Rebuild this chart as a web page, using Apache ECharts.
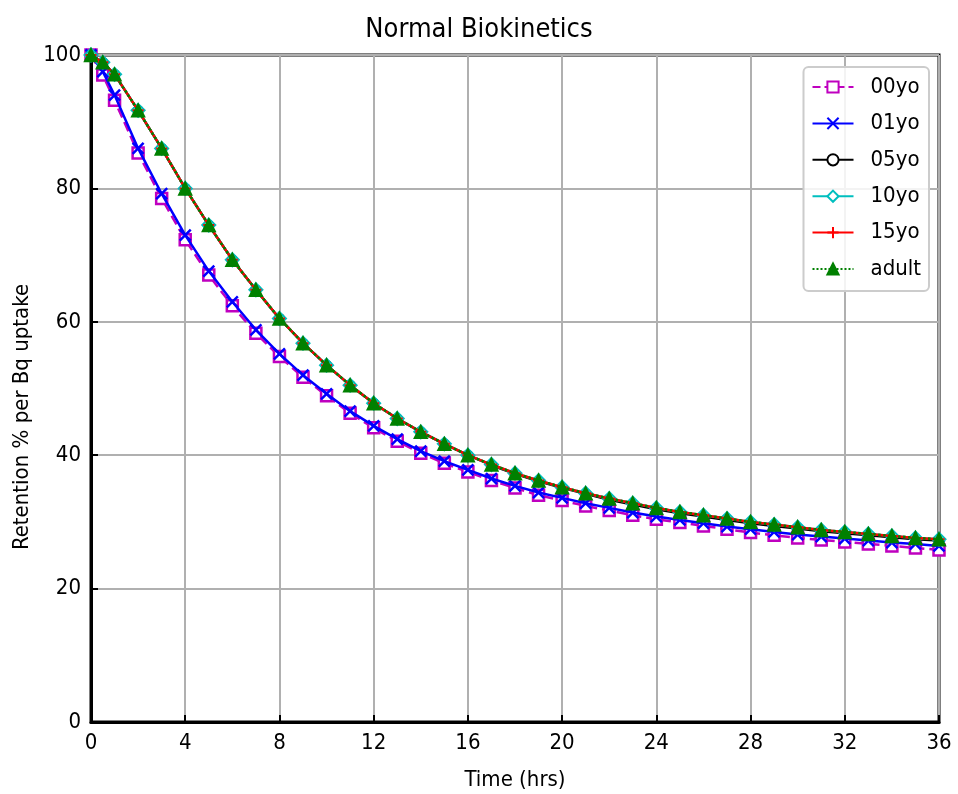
<!DOCTYPE html>
<html><head><meta charset="utf-8">
<script src="https://cdn.jsdelivr.net/npm/echarts@6/dist/echarts.min.js"></script>
<style>html,body{margin:0;padding:0;background:#fff}#c{width:958px;height:794px}</style>
</head><body><div id="c"></div>
<script>
const times = [0,0.5,1,2,3,4,5,6,7,8,9,10,11,12,13,14,15,16,17,18,19,20,21,22,23,24,25,26,27,28,29,30,31,32,33,34,35,36];
const yo00 = [100,97.0,93.2,85.3,78.5,72.3,67.0,62.4,58.3,54.8,51.7,48.9,46.3,44.1,42.1,40.3,38.8,37.5,36.2,35.1,34.0,33.2,32.4,31.7,31.0,30.4,29.9,29.4,28.9,28.4,28.0,27.6,27.3,27.0,26.7,26.4,26.1,25.8];
const yo01 = [100,97.5,94.0,86.0,79.2,73.0,67.6,63.0,58.8,55.2,52.0,49.2,46.6,44.4,42.4,40.6,39.1,37.8,36.5,35.4,34.4,33.6,32.8,32.1,31.4,30.8,30.3,29.8,29.3,28.9,28.5,28.1,27.8,27.5,27.2,26.9,26.7,26.4];
const yo05 = [100,98.9,97.1,91.7,86.0,80.0,74.5,69.3,64.8,60.5,56.8,53.5,50.5,47.8,45.5,43.5,41.7,40.0,38.5,37.2,36.1,35.1,34.2,33.3,32.6,31.9,31.3,30.8,30.3,29.8,29.4,29.0,28.6,28.3,28.0,27.7,27.4,27.2];
const yo10 = [100,98.9,97.1,91.7,86.0,80.0,74.5,69.3,64.8,60.5,56.8,53.5,50.5,47.8,45.5,43.5,41.7,40.0,38.6,37.3,36.2,35.2,34.3,33.5,32.8,32.1,31.5,31.0,30.5,30.0,29.6,29.2,28.8,28.5,28.2,27.9,27.6,27.4];
const yo15 = [100,98.9,97.1,91.7,86.0,80.0,74.5,69.3,64.8,60.5,56.8,53.5,50.5,47.8,45.5,43.5,41.7,40.0,38.6,37.3,36.2,35.2,34.3,33.5,32.8,32.1,31.5,31.0,30.5,30.0,29.6,29.2,28.8,28.5,28.2,27.9,27.6,27.4];
const adult = [100,98.9,97.1,91.7,86.0,80.0,74.5,69.3,64.8,60.5,56.8,53.5,50.5,47.8,45.5,43.5,41.7,40.0,38.6,37.3,36.2,35.2,34.3,33.5,32.8,32.1,31.5,31.0,30.5,30.0,29.6,29.2,28.8,28.5,28.2,27.9,27.6,27.4];
const names = ['00yo','01yo','05yo','10yo','15yo','adult'];
const values = [yo00, yo01, yo05, yo10, yo15, adult];

const FONT = "'DejaVu Sans Condensed','DejaVu Sans',sans-serif";
const X_PATH = 'path://M0,0L10,10M10,0L0,10';
const PLUS_PATH = 'path://M5,0L5,10M0,5L10,5';
const styles = [
  {color:'#bf00bf', type:'dashed', symbol:'rect', size:11, fill:'#ffffff', bw:2.5},
  {color:'#0000ff', type:'solid', symbol:X_PATH, size:11, fill:'none', bw:2.5},
  {color:'#000000', type:'solid', symbol:'circle', size:9, fill:'#ffffff', bw:2},
  {color:'#00bfbf', type:'solid', symbol:'diamond', size:13, fill:'#ffffff', bw:2},
  {color:'#ff0000', type:'solid', symbol:PLUS_PATH, size:11, fill:'none', bw:2},
  {color:'#008000', type:'dotted', symbol:'triangle', size:13, fill:'#008000', bw:1.5}
];

const series = names.map((n,i)=>{
  const s = styles[i];
  return {
    name:n, type:'line',
    data: times.map((t,j)=>[t, values[i][j]]),
    symbol:s.symbol, symbolSize:s.size, showAllSymbol:true,
    lineStyle:{color:s.color, width:2.5, type:s.type},
    itemStyle:{color:s.fill, borderColor:s.color, borderWidth:s.bw},
    z: 2+i, animation:false
  };
});

const chart = echarts.init(document.getElementById('c'), null, {renderer:'canvas'});
chart.setOption({
  backgroundColor:'#fff',
  animation:false,
  title:{text:'Normal Biokinetics', left:'center', top:11, textStyle:{fontFamily:FONT, fontSize:27, fontWeight:'normal', color:'#000'}},
  grid:{left:91, right:19, top:55, bottom:72, show:true, borderColor:'#000', borderWidth:3, backgroundColor:'transparent', outerBoundsMode:'none', containLabel:false},
  legend:{
    orient:'vertical', right:29, top:67, itemWidth:41, itemHeight:14, itemGap:14.4,
    backgroundColor:'rgba(255,255,255,0.85)', borderColor:'#cccccc', borderWidth:2, borderRadius:5,
    padding:[9,8,11,8],
    textStyle:{fontFamily:FONT, fontSize:22, color:'#000', padding:[0,0,0,12]},
    data:names
  },
  graphic:[{
    type:'text', x:22, y:417, rotation:Math.PI/2,
    style:{text:'Retention % per Bq uptake', fontFamily:FONT, fontSize:22, fill:'#000', align:'center', verticalAlign:'middle'}
  }],
  xAxis:{
    type:'value', min:0, max:36, interval:4,
    name:'Time (hrs)', nameLocation:'middle', nameGap:47,
    nameTextStyle:{fontFamily:FONT, fontSize:22, color:'#000'},
    axisLine:{show:true, lineStyle:{color:'#000', width:3}},
    axisTick:{show:true, inside:true, length:7, lineStyle:{color:'#000', width:2}},
    axisLabel:{fontFamily:FONT, fontSize:22, color:'#000', margin:10},
    splitLine:{show:true, lineStyle:{color:'#b0b0b0', width:2}}
  },
  yAxis:{
    type:'value', min:0, max:100, interval:20,
    axisLine:{show:true, lineStyle:{color:'#000', width:3}},
    axisTick:{show:true, inside:true, length:7, lineStyle:{color:'#000', width:2}},
    axisLabel:{fontFamily:FONT, fontSize:22, color:'#000', margin:10},
    splitLine:{show:true, lineStyle:{color:'#b0b0b0', width:2}}
  },
  series:series
});
</script></body></html>
